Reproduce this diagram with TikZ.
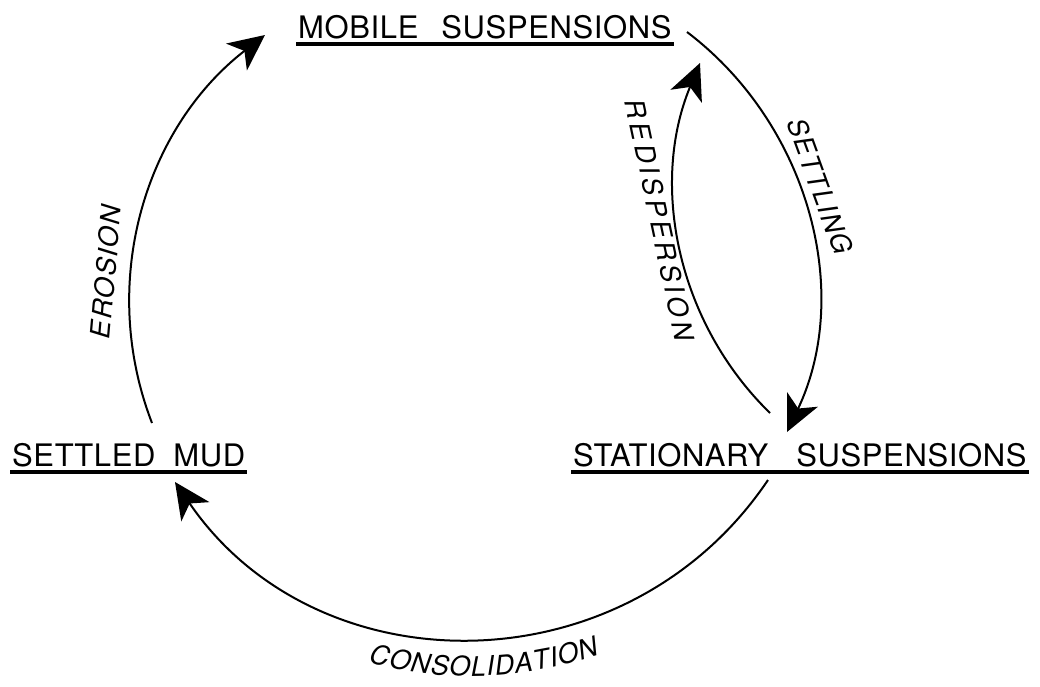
\documentclass[tikz,border=0pt]{standalone}
\usepackage{fontspec}
\setmainfont{TeX Gyre Heros}
\usetikzlibrary{arrows.meta,decorations.text}
\begin{document}
\begin{tikzpicture}[x=1pt,y=-1pt,
  head/.style={font=\fontsize{31}{36}\selectfont\addfontfeature{LetterSpace=2}, inner sep=0pt, anchor=base west},
  lab/.style={font=\fontsize{27}{30}\selectfont\itshape\addfontfeature{LetterSpace=6}, inner sep=0pt},
  arr/.style={line width=2pt, -{Stealth[length=36pt,width=34pt,inset=10pt]}},
  uline/.style={line width=3.2pt}]
\useasboundingbox (0,0) rectangle (1040,686);
% headings
\node[head] (mobile) at (298,38) {MOBILE\hskip 23pt SUSPENSIONS};
\node[head] (stat) at (573,466) {STATIONARY\hskip 28pt SUSPENSIONS};
\node[head] (mud) at (12,466) {SETTLED\hskip 18pt MUD};
\foreach \n in {mobile,stat,mud}
  \draw[uline] ([xshift=-2pt,yshift=-6pt]\n.base west) -- ([xshift=2pt,yshift=-6pt]\n.base east);
% arc end points
\coordinate (e1) at (152,423);
\coordinate (e2) at (265,35);
\coordinate (s1) at (687,32);
\coordinate (s2) at (787,432);
\coordinate (r1) at (770,413);
\coordinate (r2) at (700,63);
\coordinate (c1) at (768,480);
\coordinate (c2) at (175,482);
% connectors
\draw[arr] (e1) .. controls (97.5,281.8) and (145.3,127.6) .. (e2);
\draw[arr] (s1) .. controls (809.4,124.9) and (853,293) .. (s2);
\draw[arr] (r1) .. controls (676.5,321.8) and (649.8,183.5) .. (r2);
\draw[arr] (c1) .. controls (626.6,689.9) and (317.9,690.8) .. (c2);
% labels
\node[lab, rotate=85] (erosion) at (106,272) {EROSION};
\node[lab, rotate=-70] (settling) at (820,186) {SETTLING};
\node[lab, rotate=-78, font=\fontsize{27}{30}\selectfont\itshape\addfontfeature{LetterSpace=14}] (redisp) at (660,220) {REDISPERSION};
\path[decorate, decoration={text along path, text align={fit to path},
  text={|\fontsize{27}{30}\selectfont\itshape|CONSOLIDATION}}]
  (368.5,662.5) arc[start angle=105, end angle=71, radius=396];
\end{tikzpicture}
\end{document}
